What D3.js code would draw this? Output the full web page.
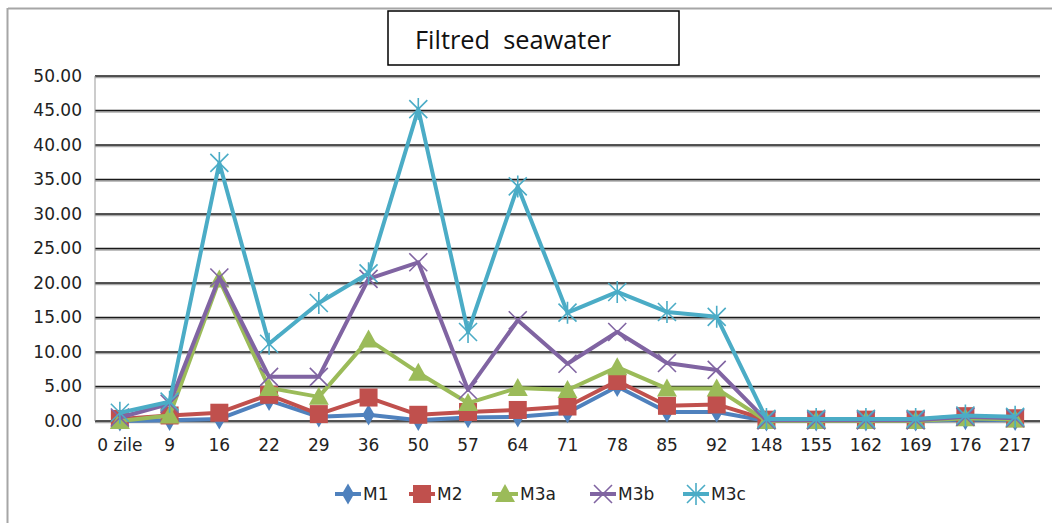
<!DOCTYPE html>
<html><head><meta charset="utf-8">
<script src="https://cdn.jsdelivr.net/npm/d3@7"></script>
<style>body{margin:0;background:#fff}svg{display:block}</style>
</head><body>
<svg id="c" width="1052" height="523"></svg>
<script>
const categories = ["0 zile","9","16","22","29","36","50","57","64","71","78","85","92","148","155","162","169","176","217"];
const M1  = [0.0,0.1,0.3,3.0,0.6,0.9,0.1,0.5,0.6,1.2,5.0,1.3,1.3,0.0,0.0,0.0,0.0,0.2,0.1];
const M2  = [0.3,0.8,1.2,3.8,1.0,3.4,0.9,1.3,1.6,2.1,5.8,2.2,2.4,0.2,0.2,0.2,0.2,0.7,0.4];
const M3a = [0.0,0.8,20.5,4.8,3.5,11.8,7.0,2.6,4.8,4.5,7.8,4.7,4.7,0.0,0.0,0.0,0.0,0.4,0.2];
const M3b = [0.5,2.5,20.8,6.4,6.4,20.6,23.0,4.5,14.6,8.3,12.9,8.4,7.4,0.1,0.1,0.1,0.1,0.6,0.4];
const M3c = [1.2,2.8,37.4,11.2,17.1,21.4,45.2,12.9,34.0,15.7,18.7,15.8,15.1,0.3,0.3,0.3,0.3,0.8,0.6];
const yTicks = [0,5,10,15,20,25,30,35,40,45,50];
const seriesNames = ["M1","M2","M3a","M3b","M3c"];
const seriesColors = ["#4f81bd","#c0504d","#9bbb59","#8064a2","#4bacc6"];
const seriesShapes = ["diamond","square","triangle","x","star"];
const seriesData = [M1,M2,M3a,M3b,M3c];

const svg = d3.select("#c");
const font = "'DejaVu Sans', sans-serif";

// outer frame (top & left visible)
svg.append("line").attr("x1",8).attr("x2",1052).attr("y1",8.5).attr("y2",8.5).attr("stroke","#a6a6a6").attr("stroke-width",2);
svg.append("line").attr("x1",7.5).attr("x2",7.5).attr("y1",8).attr("y2",523).attr("stroke","#a6a6a6").attr("stroke-width",2);

const x = d3.scaleBand().domain(categories).range([95,1040]);
const y = d3.scaleLinear().domain([0,50]).range([421,76]);

// gridlines
const grid = svg.append("g");
yTicks.forEach(t=>{
  grid.append("line").attr("x1",95).attr("x2",1040).attr("y1",y(t)+1.5).attr("y2",y(t)+1.5).attr("stroke","#aaa").attr("stroke-width",1.5);
  grid.append("line").attr("x1",95).attr("x2",1040).attr("y1",y(t)).attr("y2",y(t)).attr("stroke","#1a1a1a").attr("stroke-width",1.6);
});
// left axis line
svg.append("line").attr("x1",95).attr("x2",95).attr("y1",76).attr("y2",421).attr("stroke","#999").attr("stroke-width",1);

// y axis labels
const yAxis = d3.axisLeft(y).tickValues(yTicks).tickFormat(d3.format(".2f")).tickSize(0).tickPadding(13);
const ya = svg.append("g").attr("transform","translate(95,0)").call(yAxis);
ya.select(".domain").remove();
ya.selectAll("text").attr("font-family",font).attr("font-size",17).attr("fill","#222");

// x axis labels
const xAxis = d3.axisBottom(x).tickSize(0).tickPadding(18);
const xa = svg.append("g").attr("transform","translate(0,421)").call(xAxis);
xa.select(".domain").remove();
xa.selectAll("text").attr("font-family",font).attr("font-size",17).attr("fill","#222");

function marker(g, shape, color, cx, cy){
  if(shape==="diamond"){
    g.append("path").attr("d",d3.symbol(d3.symbolDiamond,130)()).attr("transform",`translate(${cx},${cy})`).attr("fill",color);
  } else if(shape==="square"){
    g.append("rect").attr("x",cx-9).attr("y",cy-9).attr("width",18).attr("height",18).attr("fill",color);
  } else if(shape==="triangle"){
    g.append("path").attr("d",`M${cx},${cy-10}L${cx+10},${cy+8}L${cx-10},${cy+8}Z`).attr("fill",color);
  } else if(shape==="x"){
    g.append("path").attr("d",`M${cx-9},${cy-9}L${cx+9},${cy+9}M${cx-9},${cy+9}L${cx+9},${cy-9}`).attr("stroke",color).attr("stroke-width",1.6);
  } else {
    g.append("path").attr("d",`M${cx-9},${cy-9}L${cx+9},${cy+9}M${cx-9},${cy+9}L${cx+9},${cy-9}M${cx},${cy-11}L${cx},${cy+11}`).attr("stroke",color).attr("stroke-width",1.6);
  }
}

const line = d3.line().x((d,i)=>x(categories[i])+x.bandwidth()/2).y(d=>y(d));
seriesData.forEach((data,si)=>{
  const g = svg.append("g");
  g.append("path").datum(data).attr("d",line).attr("fill","none").attr("stroke",seriesColors[si]).attr("stroke-width",4).attr("stroke-linejoin","round");
  data.forEach((v,i)=>marker(g, seriesShapes[si], seriesColors[si], x(categories[i])+x.bandwidth()/2, y(v)));
});

// title box
svg.append("rect").attr("x",388).attr("y",11).attr("width",291).attr("height",54).attr("fill","#fff").attr("stroke","#000").attr("stroke-width",1.5);
svg.append("text").attr("x",415).attr("y",49).attr("font-family","'Open Sans', sans-serif").attr("font-size",25).attr("fill","#111")
  .attr("textLength",196).attr("lengthAdjust","spacingAndGlyphs").attr("xml:space","preserve").style("white-space","pre").text("Filtred  seawater");

// legend
const legX = [335,409,492,590,683];
seriesNames.forEach((n,i)=>{
  const g = svg.append("g");
  const lx = legX[i], ly = 494;
  g.append("line").attr("x1",lx).attr("x2",lx+26).attr("y1",ly).attr("y2",ly).attr("stroke",seriesColors[i]).attr("stroke-width",4);
  marker(g, seriesShapes[i], seriesColors[i], lx+13, ly);
  g.append("text").attr("x",lx+28).attr("y",ly+6).attr("font-family",font).attr("font-size",17).attr("fill","#222").text(n);
});
</script>
</body></html>
